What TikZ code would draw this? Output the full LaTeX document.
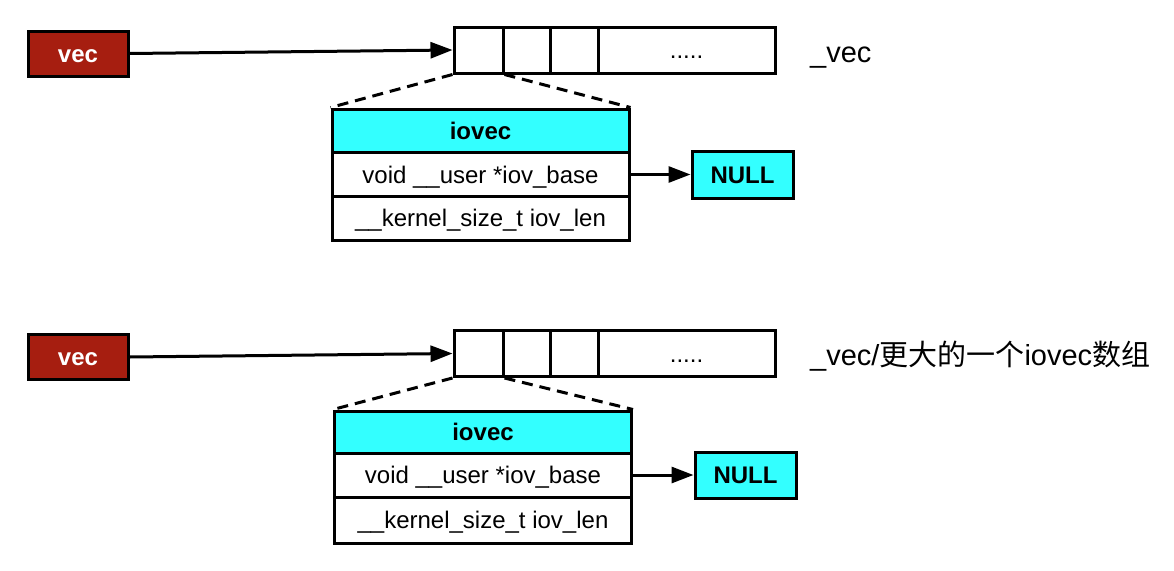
\documentclass[tikz,border=0pt]{standalone}
\usepackage{fontspec}
\setmainfont{Liberation Sans}
\newfontfamily\cjk{Noto Sans CJK SC}
\usetikzlibrary{arrows.meta,positioning}

\definecolor{vecred}{RGB}{166,30,16}
\definecolor{iocyan}{RGB}{51,255,255}

\tikzset{
  box/.style={draw=black, line width=3pt, inner sep=0pt, text height=17pt, text depth=0pt,
              font=\fontsize{24}{27}\selectfont},
  vecbox/.style={box, fill=vecred, text=white, font=\fontsize{24}{27}\selectfont\bfseries,
                 minimum width=100pt, minimum height=45pt},
  cell/.style={box, fill=white, minimum height=46pt},
  hdr/.style={box, fill=iocyan, font=\fontsize{24}{27}\selectfont\bfseries,
              minimum width=297pt, minimum height=44pt},
  field/.style={box, fill=white, minimum width=297pt, minimum height=44pt},
  nullbox/.style={box, fill=iocyan, font=\fontsize{24}{27}\selectfont\bfseries,
                  minimum width=101pt, minimum height=47pt},
  vlabel/.style={anchor=base west, inner sep=0pt, font=\fontsize{29}{33}\selectfont},
  ptr/.style={line width=3pt, -{Triangle[length=22pt,width=16pt]}},
  link/.style={line width=3pt, dash pattern=on 11pt off 7pt}
}

\begin{document}
\begin{tikzpicture}[x=1pt, y=-1pt]
  \useasboundingbox (0,0) rectangle (1174,570);

  % first: _vec
  \node[vecbox] (veca) at (78,53.5) {vec};
  \node[cell, minimum width=49pt] (cella1) at (478.5,50) {};
  \node[cell, minimum width=47pt] (cella2) at (526.5,50) {};
  \node[cell, minimum width=48pt] (cella3) at (574,50) {};
  \node[cell, minimum width=177pt] (cella4) at (686.5,50) {.....};
  \node[vlabel] (labela) at (810,62) {\_vec};
  \node[hdr] (hdra) at (480.5,131) {iovec};
  \node[field] (basea) at (480.5,174.5) {void \_\_user *iov\_base};
  \node[field] (lena) at (480.5,218) {\_\_kernel\_size\_t iov\_len};
  \node[nullbox] (nulla) at (742.5,174.5) {NULL};
  \draw[ptr] (veca.east) -- (cella1.west);
  \draw[ptr] (basea.east) -- (nulla.west);
  \draw[link] (cella1.south west) -- (hdra.north west)
              (cella1.south east) -- (hdra.north east);

  % second: a larger iovec array
  \node[vecbox] (vecb) at (78,357) {vec};
  \node[cell, minimum width=49pt] (cellb1) at (478.5,353.5) {};
  \node[cell, minimum width=47pt] (cellb2) at (526.5,353.5) {};
  \node[cell, minimum width=48pt] (cellb3) at (574,353.5) {};
  \node[cell, minimum width=177pt] (cellb4) at (686.5,353.5) {.....};
  \node[vlabel] (labelb) at (810,365) {\_vec/{\cjk 更大的一个}iovec{\cjk 数组}};
  \node[hdr, minimum height=42pt] (hdrb) at (483,432) {iovec};
  \node[field] (baseb) at (483,475) {void \_\_user *iov\_base};
  \node[field, minimum height=46pt] (lenb) at (483,520) {\_\_kernel\_size\_t iov\_len};
  \node[nullbox, minimum height=46pt] (nullb) at (745.5,475) {NULL};
  \draw[ptr] (vecb.east) -- (cellb1.west);
  \draw[ptr] (baseb.east) -- (nullb.west);
  \draw[link] (cellb1.south west) -- (hdrb.north west)
              (cellb1.south east) -- (hdrb.north east);
\end{tikzpicture}
\end{document}
